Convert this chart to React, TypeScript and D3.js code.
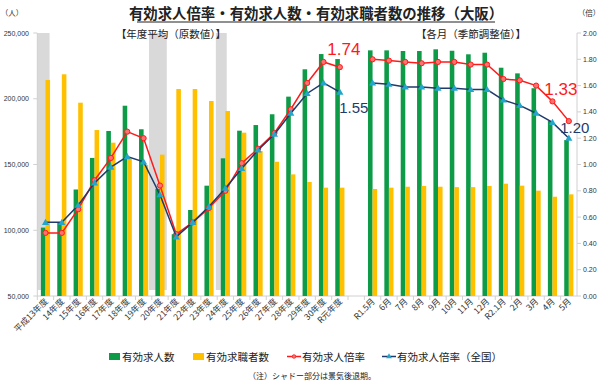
import React from 'react';
import * as d3 from 'd3';

// annual (fiscal year average, raw values)
const yearCats = [
  '平成13年度', '14年度', '15年度', '16年度', '17年度', '18年度', '19年度', '20年度',
  '21年度', '22年度', '23年度', '24年度', '25年度', '26年度', '27年度', '28年度',
  '29年度', '30年度', 'R元年度'
];
const yearJobs = [
  102000, 106000, 131000, 155000, 175500, 194700, 176800, 131500, 97000, 115400,
  133900, 154700, 175700, 180000, 188200, 201600, 222400, 234000, 230200
];
const yearSeekers = [
  214300, 218600, 197000, 176200, 166600, 154700, 149600, 157500, 207400, 207400,
  198300, 190700, 174200, 160300, 152100, 142500, 136700, 132400, 132400
];
const yearRatio = [
  0.48, 0.48, 0.66, 0.88, 1.05, 1.25, 1.2, 0.84, 0.47, 0.56,
  0.67, 0.8, 1.01, 1.12, 1.24, 1.42, 1.62, 1.78, 1.74
];
const yearRatioJapan = [
  0.56, 0.56, 0.69, 0.86, 0.98, 1.06, 1.02, 0.77, 0.45, 0.56,
  0.68, 0.82, 0.97, 1.11, 1.23, 1.39, 1.54, 1.62, 1.55
];

// monthly (seasonally adjusted)
const monthCats = ['R1.5月', '6月', '7月', '8月', '9月', '10月', '11月', '12月', 'R2.1月', '2月', '3月', '4月', '5月'];
const monthJobs = [236800, 236800, 236300, 236300, 237600, 236500, 233800, 235000, 223600, 219300, 208000, 183100, 168600];
const monthSeekers = [131400, 132400, 133100, 133700, 133100, 132800, 132800, 133700, 135400, 133900, 130100, 125500, 127300];
const monthRatio = [1.8, 1.79, 1.78, 1.77, 1.78, 1.78, 1.76, 1.76, 1.65, 1.64, 1.6, 1.48, 1.33];
const monthRatioJapan = [1.62, 1.61, 1.59, 1.59, 1.58, 1.58, 1.57, 1.57, 1.49, 1.45, 1.39, 1.32, 1.2];

// recession periods (shaded), months from start of FY H13 (2001-04)
const recessions = [
  ['2001-04', '2001-12'],
  ['2008-02', '2009-02'],
  ['2012-03', '2012-10']
];

const leftTicks = [50000, 100000, 150000, 200000, 250000];
const rightTicks = [0, 0.2, 0.4, 0.6, 0.8, 1.0, 1.2, 1.4, 1.6, 1.8, 2.0];

const GREEN = '#0d9b48';
const YELLOW = '#ffc000';
const RED = '#ff1a1a';
const NAVY = '#1f3a6b';
const CYAN = '#23a6cc';
const JP = '"Noto Sans CJK JP", sans-serif';
const NUM = '"Liberation Sans", Arial, sans-serif';

const GAP = '__gap';

export default function App() {
  const W = 600;
  const H = 390;
  const left = 37.3;
  const right = 577;
  const top = 33;
  const bottom = 296;

  const cats = [...yearCats, GAP, ...monthCats];
  const x = d3.scaleBand<string>().domain(cats).range([left, right]).padding(0);
  const bw = x.bandwidth();
  const sub = d3.scaleBand<string>().domain(['jobs', 'seekers']).range([bw * 0.22, bw * 0.78]).padding(0);
  const yL = d3.scaleLinear().domain([50000, 250000]).range([bottom, top]);
  const yR = d3.scaleLinear().domain([0, 2]).range([bottom, top]);

  const cx = (c: string) => (x(c) as number) + bw / 2;

  const monthIdx = (s: string) => {
    const [yy, mm] = s.split('-').map(Number);
    return (yy - 2001) * 12 + (mm - 4);
  };
  const xm = d3.scaleLinear().domain([0, 12]).range([left, left + bw]);

  const barsData = [
    ...yearCats.map((c, i) => ({ c, jobs: yearJobs[i], seekers: yearSeekers[i] })),
    ...monthCats.map((c, i) => ({ c, jobs: monthJobs[i], seekers: monthSeekers[i] }))
  ];

  const line = d3
    .line<{ c: string; v: number }>()
    .x(d => cx(d.c))
    .y(d => yR(d.v));

  const series = [
    { key: 'japan', color: NAVY, marker: 'tri', parts: [yearCats.map((c, i) => ({ c, v: yearRatioJapan[i] })), monthCats.map((c, i) => ({ c, v: monthRatioJapan[i] }))] },
    { key: 'osaka', color: RED, marker: 'circle', parts: [yearCats.map((c, i) => ({ c, v: yearRatio[i] })), monthCats.map((c, i) => ({ c, v: monthRatio[i] }))] }
  ];
  // draw red first, navy on top
  const drawOrder = [series[1], series[0]];

  const tri = d3.symbol().type(d3.symbolTriangle).size(22)();

  const lastYear = yearCats[yearCats.length - 1];
  const lastMonth = monthCats[monthCats.length - 1];

  return (
    <svg width={W} height={H} style={{ position: 'absolute', left: 0, top: 0, background: '#fff' }}>
      {/* title */}
      <text x={316} y={19} textAnchor="middle" fontFamily={JP} fontSize={14.4} fontWeight="bold" fill="#222">
        有効求人倍率・有効求人数・有効求職者数の推移（大阪）
      </text>
      <line x1={137} x2={495} y1={22} y2={22} stroke="#222" strokeWidth={1.2} />
      <text x={12} y={16} textAnchor="middle" fontFamily={JP} fontSize={7.5} fill="#333">（人）</text>
      <text x={589} y={16} textAnchor="middle" fontFamily={JP} fontSize={7.5} fill="#333">（倍）</text>

      {/* recession shading */}
      {recessions.map(([a, b], i) => (
        <rect key={i} x={xm(monthIdx(a))} y={top} width={xm(monthIdx(b) + 1) - xm(monthIdx(a))} height={bottom - top - 6} fill="#d9d9d9" />
      ))}

      {/* axes */}
      <line x1={left} x2={left} y1={top} y2={bottom} stroke="#d0d0d0" />
      <line x1={right} x2={right} y1={top} y2={bottom} stroke="#d0d0d0" />
      <line x1={left} x2={right} y1={bottom} y2={bottom} stroke="#d0d0d0" />
      {leftTicks.map(t => (
        <g key={t}>
          <line x1={left - 4} x2={left} y1={yL(t)} y2={yL(t)} stroke="#d0d0d0" />
          <text x={29} y={yL(t) + 2.5} textAnchor="end" fontFamily={NUM} fontSize={7} fill="#333">
            {d3.format(',')(t)}
          </text>
        </g>
      ))}
      {rightTicks.map(t => (
        <g key={t}>
          <line x1={right} x2={right + 4} y1={yR(t)} y2={yR(t)} stroke="#d0d0d0" />
          <text x={583} y={yR(t) + 2.5} textAnchor="start" fontFamily={NUM} fontSize={7} fill="#333">
            {t.toFixed(2)}
          </text>
        </g>
      ))}
      {cats.map(c => (
        <line key={c} x1={x(c)} x2={x(c)} y1={bottom} y2={bottom + 4} stroke="#d0d0d0" />
      ))}
      {cats.filter(c => c !== GAP).map(c => (
        <text
          key={c}
          transform={`translate(${cx(c) + 3},${bottom + 6}) rotate(-45)`}
          textAnchor="end"
          fontFamily={JP}
          fontSize={8.5}
          fill="#333"
        >
          {c}
        </text>
      ))}

      {/* section captions */}
      <text x={171} y={38} textAnchor="middle" fontFamily={JP} fontSize={10.5} fill="#222">【年度平均（原数値）】</text>
      <text x={471} y={38} textAnchor="middle" fontFamily={JP} fontSize={10.5} fill="#222">【各月（季節調整値）】</text>

      {/* bars */}
      {barsData.map(d => (
        <g key={d.c} transform={`translate(${x(d.c)},0)`}>
          <rect x={sub('jobs')} y={yL(d.jobs)} width={sub.bandwidth()} height={bottom - yL(d.jobs)} fill={GREEN} />
          <rect x={sub('seekers')} y={yL(d.seekers)} width={sub.bandwidth()} height={bottom - yL(d.seekers)} fill={YELLOW} />
        </g>
      ))}

      {/* ratio lines */}
      {drawOrder.map(s => (
        <g key={s.key}>
          {s.parts.map((p, i) => (
            <path key={i} d={line(p) || ''} fill="none" stroke={s.color} strokeWidth={1.5} />
          ))}
          {s.parts.flat().map(d =>
            s.marker === 'circle' ? (
              <circle key={d.c} cx={cx(d.c)} cy={yR(d.v)} r={2.6} fill="#ff7070" stroke={RED} strokeWidth={1} />
            ) : (
              <path key={d.c} d={tri || ''} transform={`translate(${cx(d.c)},${yR(d.v) + 0.5})`} fill={CYAN} stroke="none" />
            )
          )}
        </g>
      ))}

      {/* value labels */}
      <text x={cx(lastYear) + 4} y={55} textAnchor="middle" fontFamily={NUM} fontSize={17} fill={RED}>
        {yearRatio[yearRatio.length - 1].toFixed(2)}
      </text>
      <text x={cx(lastYear) + 14} y={113} textAnchor="middle" fontFamily={NUM} fontSize={15} fill={NAVY}>
        {yearRatioJapan[yearRatioJapan.length - 1].toFixed(2)}
      </text>
      <text x={cx(lastMonth) - 8} y={95} textAnchor="middle" fontFamily={NUM} fontSize={17} fill={RED}>
        {monthRatio[monthRatio.length - 1].toFixed(2)}
      </text>
      <text x={cx(lastMonth) + 6} y={133} textAnchor="middle" fontFamily={NUM} fontSize={15} fill={NAVY}>
        {monthRatioJapan[monthRatioJapan.length - 1].toFixed(2)}
      </text>

      {/* legend */}
      <g fontFamily={JP} fontSize={10.5} fill="#222">
        <rect x={109} y={353} width={11} height={7} fill={GREEN} />
        <text x={122} y={361}>有効求人数</text>
        <rect x={193} y={353} width={11} height={7} fill={YELLOW} />
        <text x={206} y={361}>有効求職者数</text>
        <line x1={287} x2={301} y1={356.5} y2={356.5} stroke={RED} strokeWidth={1.5} />
        <circle cx={294} cy={356.5} r={1.8} fill="#ff7070" stroke={RED} strokeWidth={0.8} />
        <text x={302} y={361}>有効求人倍率</text>
        <line x1={382} x2={396} y1={356.5} y2={356.5} stroke={NAVY} strokeWidth={1.5} />
        <path d={d3.symbol().type(d3.symbolTriangle).size(14)() || ''} transform="translate(389,356.5)" fill={CYAN} />
        <text x={397} y={361}>有効求人倍率（全国）</text>
      </g>
      <text x={312} y={379} textAnchor="middle" fontFamily={JP} fontSize={8} fill="#222">
        （注）シャドー部分は景気後退期。
      </text>
    </svg>
  );
}
